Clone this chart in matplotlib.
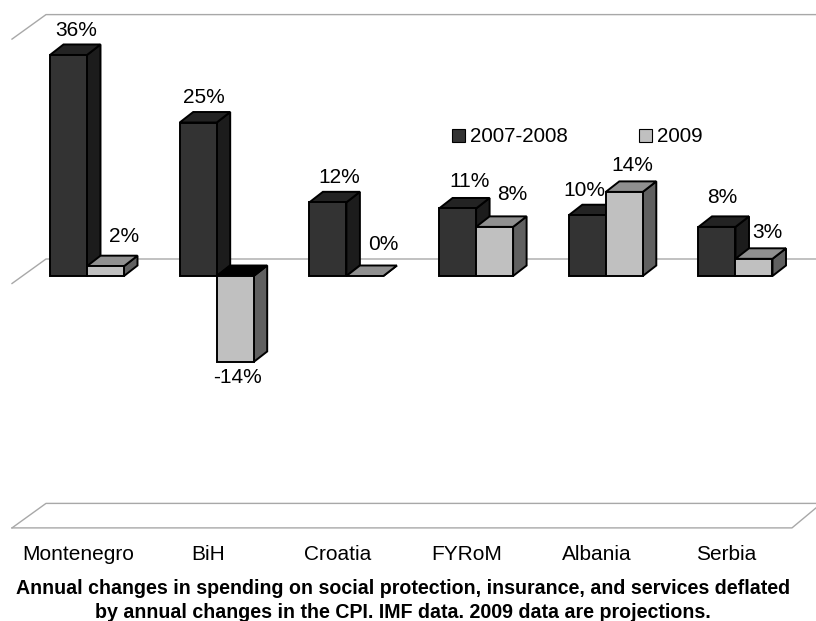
import matplotlib
matplotlib.use("Agg")
import matplotlib.pyplot as plt
from matplotlib.patches import Polygon, Patch

plt.rcParams['font.family'] = ['Liberation Sans', 'DejaVu Sans']

categories = ["Montenegro", "BiH", "Croatia", "FYRoM", "Albania", "Serbia"]
series_names = ["2007-2008", "2009"]
values_0708 = [36, 25, 12, 11, 9.9, 8]
values_2009 = [1.6, -14, 0, 8, 13.7, 2.8]
wall_levels = [-40, 0, 40]

W, H = 816, 621
AX_BOTTOM_PX = 545
ZERO_PX = 276
PX_PER_UNIT = 6.14
WALL_PX_PER_UNIT = 6.11
PX_PER_CAT = 129.7
CAT0_PX = 78
FS = 15

fig = plt.figure(figsize=(W / 100, H / 100), dpi=100)
ax = fig.add_axes([0, (H - AX_BOTTOM_PX) / H, 1, AX_BOTTOM_PX / H])
ax.set_xlim(-CAT0_PX / PX_PER_CAT, (W - CAT0_PX) / PX_PER_CAT)
ax.set_ylim((ZERO_PX - AX_BOTTOM_PX) / PX_PER_UNIT, ZERO_PX / PX_PER_UNIT)
for s in ax.spines.values():
    s.set_visible(False)
ax.set_yticks([])
ax.set_xticks(range(len(categories)))
ax.set_xticklabels(categories, fontsize=FS, color='black')
ax.tick_params(axis='x', length=0, pad=0)

BAR_W = 37 / PX_PER_CAT
DX = 13.5 / PX_PER_CAT
DY = 10.5 / PX_PER_UNIT
OFFSET0 = 9 / PX_PER_CAT          # group centre relative to the tick
WALL_X0 = (12 - CAT0_PX) / PX_PER_CAT
WALL_X1 = (46 - CAT0_PX) / PX_PER_CAT
WALL_X_END = (W + 5 - CAT0_PX) / PX_PER_CAT
FLOOR_X_FRONT_END = (792 - CAT0_PX) / PX_PER_CAT
WALL_FRONT = -7.5 / PX_PER_UNIT
WALL_BACK = 17 / PX_PER_UNIT
GRID_COL = '#a8a8a8'

for lv in wall_levels:
    lv_scaled = lv * WALL_PX_PER_UNIT / PX_PER_UNIT
    back = lv_scaled + WALL_BACK
    front = lv_scaled + WALL_FRONT
    ax.plot([WALL_X0, WALL_X1, WALL_X_END], [front, back, back], color=GRID_COL, lw=1.0, zorder=1)
floor_front = wall_levels[0] * WALL_PX_PER_UNIT / PX_PER_UNIT + WALL_FRONT
ax.plot([WALL_X0, FLOOR_X_FRONT_END, WALL_X_END - 5 / PX_PER_CAT],
        [floor_front, floor_front, floor_front + 20 / PX_PER_UNIT],
        color=GRID_COL, lw=1.0, zorder=1)


def bar3d(ax, left, val, front_c, top_c, side_c, z):
    right = left + BAR_W
    top = max(val, 0)
    bot = min(val, 0)
    kw = dict(edgecolor='black', linewidth=1.4, joinstyle='miter', zorder=z)
    ax.add_patch(Polygon([(right, bot), (right + DX, bot + DY), (right + DX, top + DY), (right, top)], facecolor=side_c, **kw))
    ax.add_patch(Polygon([(left, top), (left + DX, top + DY), (right + DX, top + DY), (right, top)], facecolor=top_c, **kw))
    if top != bot:
        ax.add_patch(Polygon([(left, bot), (right, bot), (right, top), (left, top)], facecolor=front_c, **kw))


dark = ('#333333', '#232323', '#1c1c1c')
light = ('#c0c0c0', '#909090', '#606060')
for i, (a, b) in enumerate(zip(values_0708, values_2009)):
    centre = i + OFFSET0
    bar3d(ax, centre - BAR_W, a, *dark, 3 + 2 * i)
    top2 = '#000000' if b < 0 else light[1]
    bar3d(ax, centre, b, light[0], top2, light[2], 4 + 2 * i)

# label nudges, in pixels, from the middle of each bar's far end
nudge_a = [(7.5, 26), (5.5, 27), (11, 27), (12, 29), (-3, 27), (5, 31)]
nudge_b = [(18.5, 32), (2.5, -14), (18, 33), (18, 34), (8, 28), (13, 28)]
for i, (a, b) in enumerate(zip(values_0708, values_2009)):
    centre = i + OFFSET0
    for val, x, (ox, oy) in ((a, centre - BAR_W / 2, nudge_a[i]), (b, centre + BAR_W / 2, nudge_b[i])):
        ax.annotate(f"{val:.0f}%", (x, val), xytext=(ox, oy), textcoords='offset pixels',
                    ha='center', va='center_baseline', fontsize=FS, color='black', zorder=50)

handles = [Patch(facecolor=dark[0], edgecolor='black', linewidth=0.8),
           Patch(facecolor=light[0], edgecolor='black', linewidth=0.8)]
leg = ax.legend(handles, series_names, ncol=2, frameon=False, fontsize=14.9,
                loc='center left', bbox_to_anchor=(452 / W, 1 - 137 / AX_BOTTOM_PX),
                handlelength=0.62, handleheight=0.62, handletextpad=0.25,
                columnspacing=3.45, borderpad=0, borderaxespad=0)
leg.set_zorder(60)

fig.text(403 / W, 1 - 586 / H, "Annual changes in spending on social protection, insurance, and services deflated",
         ha='center', va='center_baseline', fontsize=14.1, fontweight='bold', color='black')
fig.text(403 / W, 1 - 610 / H, "by annual changes in the CPI. IMF data. 2009 data are projections.",
         ha='center', va='center_baseline', fontsize=14.1, fontweight='bold', color='black')

fig.savefig("out.png", dpi=100)
